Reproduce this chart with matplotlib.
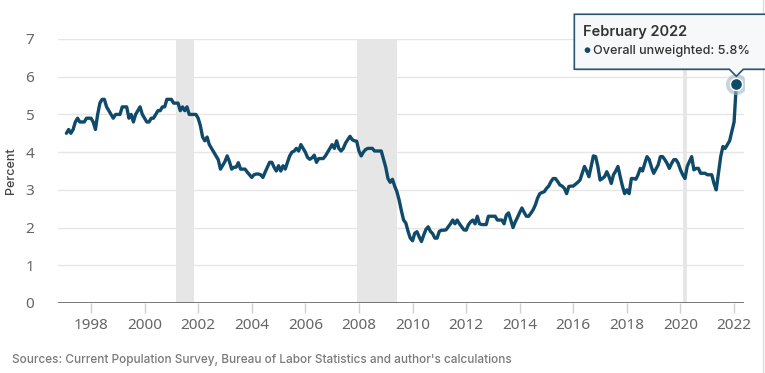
import matplotlib
matplotlib.use("Agg")
import matplotlib.pyplot as plt
import numpy as np
from matplotlib.lines import Line2D
from matplotlib.patches import Polygon, Rectangle

# monthly series, Feb 1997 .. Feb 2022 (percent)
start_year, start_month = 1997, 2
rate = [
    # 1997 (Feb-Dec)
    4.5, 4.6, 4.5, 4.6, 4.8, 4.9, 4.8, 4.8, 4.8, 4.9, 4.9,
    # 1998
    4.9, 4.8, 4.6, 5.0, 5.3, 5.4, 5.4, 5.2, 5.1, 5.0, 4.9, 5.0,
    # 1999
    5.0, 5.0, 5.2, 5.2, 5.2, 4.9, 5.0, 4.8, 5.0, 5.1, 5.2, 5.0,
    # 2000
    4.9, 4.8, 4.8, 4.9, 4.9, 5.0, 5.1, 5.1, 5.2, 5.2, 5.4, 5.4,
    # 2001
    5.4, 5.3, 5.3, 5.3, 5.1, 5.2, 5.1, 5.2, 5.0, 5.0, 5.0, 5.0,
    # 2002
    4.9, 4.7, 4.4, 4.3, 4.4, 4.2, 4.1, 4.0, 3.9, 3.8, 3.55, 3.65,
    # 2003
    3.75, 3.9, 3.75, 3.55, 3.6, 3.6, 3.72, 3.55, 3.55, 3.55, 3.47, 3.4,
    # 2004
    3.33, 3.4, 3.42, 3.42, 3.4, 3.33, 3.47, 3.6, 3.73, 3.73, 3.6, 3.5,
    # 2005
    3.64, 3.5, 3.64, 3.55, 3.73, 3.9, 4.0, 4.03, 4.1, 4.03, 4.2, 4.1,
    # 2006
    4.0, 3.86, 3.81, 3.85, 3.92, 3.73, 3.83, 3.83, 3.83, 3.9, 4.0, 4.1,
    # 2007
    4.2, 4.1, 4.3, 4.1, 4.03, 4.1, 4.24, 4.33, 4.42, 4.33, 4.3, 4.29,
    # 2008
    4.03, 3.9, 4.0, 4.07, 4.1, 4.1, 4.1, 4.03, 4.03, 4.03, 4.03, 3.81,
    # 2009
    3.6, 3.3, 3.2, 3.28, 3.1, 2.95, 2.73, 2.45, 2.2, 2.12, 1.9, 1.72,
    # 2010
    1.65, 1.85, 1.89, 1.75, 1.63, 1.8, 1.95, 2.02, 1.9, 1.84, 1.72, 1.72,
    # 2011
    1.9, 1.93, 1.93, 1.94, 2.02, 2.1, 2.2, 2.1, 2.2, 2.1, 2.02, 1.94,
    # 2012
    1.93, 2.07, 2.15, 2.2, 2.1, 2.3, 2.1, 2.08, 2.08, 2.08, 2.3, 2.3,
    # 2013
    2.3, 2.3, 2.2, 2.2, 2.2, 2.1, 2.33, 2.39, 2.2, 2.0, 2.15, 2.27,
    # 2014
    2.4, 2.52, 2.4, 2.3, 2.3, 2.38, 2.47, 2.6, 2.78, 2.9, 2.93, 2.95,
    # 2015
    3.04, 3.1, 3.22, 3.3, 3.3, 3.22, 3.13, 3.1, 3.04, 2.9, 3.09, 3.1,
    # 2016
    3.1, 3.15, 3.2, 3.26, 3.44, 3.62, 3.5, 3.35, 3.62, 3.9, 3.88, 3.62,
    # 2017
    3.26, 3.3, 3.35, 3.48, 3.35, 3.17, 3.4, 3.5, 3.62, 3.35, 3.1, 2.9,
    # 2018
    3.0, 2.9, 3.3, 3.3, 3.28, 3.4, 3.57, 3.5, 3.7, 3.88, 3.8, 3.6,
    # 2019
    3.44, 3.55, 3.66, 3.88, 3.88, 3.8, 3.7, 3.57, 3.7, 3.8, 3.8, 3.7,
    # 2020
    3.53, 3.4, 3.3, 3.62, 3.75, 3.88, 3.53, 3.57, 3.57, 3.44, 3.44, 3.44,
    # 2021
    3.4, 3.4, 3.4, 3.17, 3.0, 3.44, 3.88, 4.15, 4.1, 4.2, 4.3, 4.55,
    # 2022 (Jan-Feb)
    4.8, 5.8,
]

# NBER recessions (decimal years)
recession_start = [2001 + 2 / 12, 2007 + 11 / 12, 2020 + 1 / 12]
recession_end = [2001 + 10 / 12, 2009 + 5 / 12, 2020 + 3 / 12]

year_ticks = list(range(1998, 2023, 2))
y_ticks = [0, 1, 2, 3, 4, 5, 6, 7]

tooltip_title = "February 2022"
tooltip_series = "Overall unweighted"
source_note = "Sources: Current Population Survey, Bureau of Labor Statistics and author's calculations"

LINE = "#0f4a6a"
GRID = "#e6e6e6"
TXT = "#666666"
UI = ["Inter", "DejaVu Sans"]

plt.rcParams["font.family"] = ["Noto Sans", "DejaVu Sans"]

idx = np.arange(len(rate))
x = start_year + (start_month - 1) / 12 + idx / 12
y = np.array(rate)

W, H = 765, 373
fig = plt.figure(figsize=(W / 100, H / 100), dpi=100)
ax = fig.add_axes([58 / W, 1 - 303 / H, (744 - 58) / W, (303 - 39) / H])

for s, e in zip(recession_start, recession_end):
    ax.axvspan(s, e, color=GRID, lw=0, zorder=0)

for v in y_ticks[1:]:
    ax.axhline(v, color=GRID, lw=1.0, zorder=1)
ax.axhline(0, color="#6b6b6b", lw=2.0, zorder=3)

ax.plot(x, y, color=LINE, lw=2.4, solid_joinstyle="round", solid_capstyle="round", zorder=4)

# highlighted last point
ax.scatter([x[-1]], [y[-1]], s=230, color="#9fb8c8", alpha=0.6, lw=0, zorder=5)
ax.scatter([x[-1]], [y[-1]], s=75, color=LINE, edgecolor="white", lw=1.0, zorder=6)

ax.set_xlim(1996.77, 2022.37)
ax.set_ylim(0, 7)
ax.set_xticks(year_ticks)
ax.set_xticklabels([str(t) for t in year_ticks])
ax.set_yticks(y_ticks)
ax.tick_params(axis="x", length=7, width=1, color="#d0d0d0", labelsize=11, labelcolor=TXT, pad=4)
ax.tick_params(axis="y", length=0, labelsize=11, labelcolor=TXT, pad=17)
for sp in ax.spines.values():
    sp.set_visible(False)
ax.set_ylabel("Percent", fontsize=9, color="#444444", labelpad=6, family=UI, fontweight="medium")

fig.text(12 / W, 1 - 360 / H, source_note, fontsize=8.5, color="#7a7a7a",
         va="center", ha="left", family=UI, fontweight="medium")

# right edge border of the chart container
fig.add_artist(Line2D([763 / W, 763 / W], [0, 1], color="#dddddd", lw=1))

# tooltip anchored on the last point (display pixels)
fig.canvas.draw()
px, py = ax.transData.transform((x[-1], y[-1]))
box_l, box_r = px - 162, px + 40
box_b = py + 15
box_t = box_b + 55
tip = py + 8
shadow = Rectangle((box_l + 2, box_b - 2), box_r - box_l, box_t - box_b, transform=None,
                   facecolor="#000000", alpha=0.06, lw=0, zorder=10)
fig.add_artist(shadow)
outline = Polygon([(box_l, box_b), (px - 7, box_b), (px, tip), (px + 7, box_b), (box_r, box_b),
                   (box_r, box_t), (box_l, box_t)], closed=True, transform=None,
                  facecolor="#f7f8f9", edgecolor="#2b5573", lw=1.2, zorder=11)
fig.add_artist(outline)
fig.text((box_l + 9) / W, (box_t - 18) / H, tooltip_title, fontsize=10.5, color="#333333",
         family=UI, fontweight="semibold", va="center", ha="left", zorder=12)
fig.text((box_l + 9) / W, (box_t - 37) / H, "\u25cf", fontsize=5.5, color=LINE,
         family=UI, va="center", ha="left", zorder=12)
fig.text((box_l + 19) / W, (box_t - 37) / H, f"{tooltip_series}: {y[-1]:.1f}%", fontsize=9.1,
         color="#333333", family=UI, fontweight="medium", va="center", ha="left", zorder=12)

fig.savefig("out.png", dpi=100)
